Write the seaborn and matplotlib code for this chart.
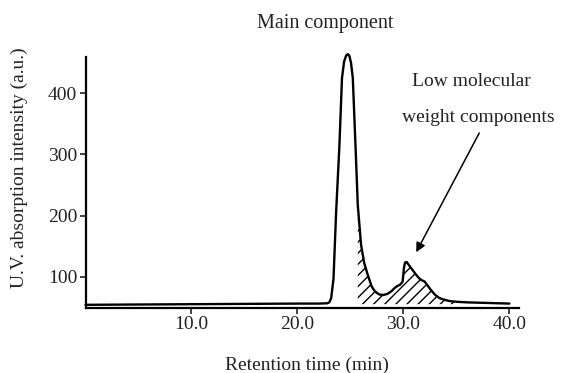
import matplotlib
matplotlib.use("Agg")
import matplotlib.pyplot as plt
import seaborn as sns
import numpy as np
import pandas as pd

# chromatogram: retention time (min) vs UV intensity (a.u.)
retention_time = [0, 5, 10, 15, 20, 22, 22.8, 23.0, 23.18, 23.4, 23.65, 23.96,
                  24.2, 24.4, 24.6, 24.75, 24.9, 25.05, 25.22, 25.47, 25.69, 26.0,
                  26.3, 26.63, 27.0, 27.3, 27.7, 28.1, 28.5, 28.85, 29.2, 29.45,
                  29.7, 29.92, 30.05, 30.15, 30.3, 30.55, 30.9, 31.2, 31.5, 31.75,
                  32.0, 32.3, 32.6, 33.0, 33.4, 33.9, 34.4, 35.0, 36.0, 38.0, 40.0]
intensity = [54, 54.5, 55, 55.5, 56, 56, 56.5, 58, 65, 97, 207, 316,
             425, 452, 462, 464, 461, 450, 425, 316, 217, 152,
             122, 103, 84, 76, 71, 70, 72, 76, 82, 85,
             87, 92, 115, 123, 124, 118, 110, 103, 97, 94,
             92, 85, 78, 70, 65, 62, 60, 59, 58, 57, 56]

baseline = 55
hatch_start = 25.6
hatch_end = 35.0

x_ticks = [10, 20, 30, 40]
x_ticklabels = ["10.0", "20.0", "30.0", "40.0"]
y_ticks = [100, 200, 300, 400]

df = pd.DataFrame({"time": retention_time, "uv": intensity})

sns.set_style("ticks")
plt.rcParams['font.family'] = ['Liberation Serif', 'DejaVu Serif']
plt.rcParams['hatch.linewidth'] = 1.0

fig = plt.figure(figsize=(5.64, 3.73), dpi=100)
ax = fig.add_axes([0.1516, 0.1743, 0.7686, 0.673])

sns.lineplot(data=df, x="time", y="uv", color="black", linewidth=1.7, ax=ax)
for line in ax.lines:
    line.set_clip_on(False)

# low molecular weight region (hatched)
t = np.array(retention_time)
u = np.array(intensity)
mask = (t >= hatch_start) & (t <= hatch_end)
ax.fill_between(t[mask], baseline, u[mask], facecolor="none", edgecolor="black",
                hatch="///", linewidth=0)

ax.set_xlim(0, 40.9)
ax.set_ylim(48.8, 459.4)
ax.set_xticks(x_ticks)
ax.set_xticklabels(x_ticklabels)
ax.set_yticks(y_ticks)
ax.tick_params(axis="both", length=4, width=1.2, labelsize=14, colors="#222222",
               pad=2)

sns.despine(ax=ax)
for s in ["left", "bottom"]:
    ax.spines[s].set_linewidth(1.6)
    ax.spines[s].set_color("black")

ax.set_xlabel("Retention time (min)", fontsize=14, color="#222222")
ax.set_ylabel("U.V. absorption intensity (a.u.)", fontsize=14, color="#222222")
ax.xaxis.set_label_coords(0.511, -0.195)
ax.yaxis.set_label_coords(-0.133, 0.558)

fig.text(0.576, 0.938, "Main component", ha="center", va="center",
         fontsize=14.5, color="#222222")

ax.text(36.4, 419, "Low molecular", ha="center", va="center", fontsize=14,
        color="#222222")
ax.text(37.1, 360, "weight components", ha="center", va="center", fontsize=14,
        color="#222222")
ax.annotate("", xy=(31.2, 140), xytext=(37.15, 335),
            arrowprops=dict(arrowstyle="-|>", color="black", lw=1.1,
                            mutation_scale=14, shrinkA=0, shrinkB=0))

plt.savefig("out.png", dpi=100)
plt.close()
